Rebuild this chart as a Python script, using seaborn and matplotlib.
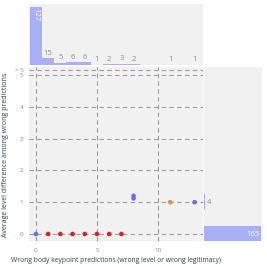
import matplotlib
matplotlib.use("Agg")
import matplotlib.pyplot as plt
import seaborn as sns
import pandas as pd

# scatter points: wrong predictions vs average level difference
pt_x = [0, 1, 2, 3, 4, 5, 6, 7, 8, 8, 11, 13]
pt_y = [0, 0, 0, 0, 0, 0, 0, 0, 1.12, 1.2, 1, 1]
pt_group = ["a", "b", "b", "b", "b", "b", "b", "b", "a", "a", "c", "a"]
group_colors = {"a": "#636EFA", "b": "#E0201B", "c": "#F58A2E"}

# marginal histogram counts
top_x = [0, 1, 2, 3, 4, 5, 6, 7, 8, 11, 13]
top_counts = [127, 15, 5, 6, 6, 1, 2, 3, 2, 1, 1]
right_y = [0, 1]
right_counts = [165, 4]

y_ticks = [0, 1, 2, 3, 4, 5, 5.16]
y_ticklabels = ["0", "1", "2", "3", "4", "5", "> 5"]
x_ticks = [0, 5, 10]

sns.set_theme(style="whitegrid")
plt.rcParams['font.family'] = ['Open Sans', 'DejaVu Sans']

bg = "#f1f1f1"
bar_col = "#aab0f6"
grid_kw = dict(color="#9c9c9c", linestyle=(0, (4, 3)), linewidth=0.8)
tick_col = "#8a8a8a"

W = 267
fig = plt.figure(figsize=(2.67, 2.67), dpi=100)
ax = fig.add_axes([29 / W, (W - 241) / W, 174 / W, 174 / W])
ax_top = fig.add_axes([29 / W, (W - 65) / W, 174 / W, 61 / W])
ax_right = fig.add_axes([204 / W, (W - 241) / W, 58 / W, 174 / W])

# main scatter
df = pd.DataFrame({"x": pt_x, "y": pt_y, "g": pt_group})
sns.scatterplot(data=df, x="x", y="y", hue="g", palette=group_colors,
                s=11, linewidth=0, legend=False, ax=ax, zorder=3)
ax.set_facecolor(bg)
ax.set_xlim(-0.57, 13.69)
ax.set_ylim(-0.22, 5.25)
ax.set_xticks(x_ticks)
ax.set_yticks(y_ticks)
ax.set_yticklabels(y_ticklabels)
ax.grid(True, **grid_kw)
ax.tick_params(labelsize=4.6, labelcolor=tick_col, color="#c8c8c8",
               length=2.5, width=0.6, pad=1.5, direction="out")
ax.tick_params(axis="x", pad=2.5)
ax.set_xlabel("")
ax.set_ylabel("")
for s in ax.spines.values():
    s.set_visible(False)

# top histogram
sns.histplot(x=top_x, weights=top_counts, discrete=True, ax=ax_top,
             color=bar_col, alpha=1, edgecolor="none", linewidth=0)
ax_top.set_facecolor(bg)
ax_top.set_xlim(-0.57, 13.69)
ax_top.set_ylim(0, 133.6)
ax_top.set_xticks([])
ax_top.set_yticks([])
ax_top.grid(False)
ax_top.set_ylabel("")
for s in ax_top.spines.values():
    s.set_visible(False)
for xv, c in zip(top_x, top_counts):
    if c > 60:
        ax_top.text(xv, c - 3, str(c), rotation=-90, ha="center", va="top",
                    fontsize=5.5, color="white")
    else:
        ax_top.text(xv, c + 3, str(c), ha="center", va="bottom",
                    fontsize=5.5, color=tick_col)

# right histogram
sns.histplot(y=right_y, weights=right_counts, discrete=True, shrink=0.5,
             ax=ax_right, color=bar_col, alpha=1, edgecolor="none", linewidth=0)
ax_right.set_facecolor(bg)
ax_right.set_ylim(-0.22, 5.25)
ax_right.set_xlim(0, 168)
ax_right.set_xticks([])
ax_right.set_yticks([])
ax_right.grid(False)
ax_right.set_xlabel("")
for s in ax_right.spines.values():
    s.set_visible(False)
for yv, c in zip(right_y, right_counts):
    if c > 60:
        ax_right.text(c - 3, yv, str(c), ha="right", va="center",
                      fontsize=5.5, color="white")
    else:
        ax_right.text(c + 3, yv, str(c), ha="left", va="center",
                      fontsize=5.5, color=tick_col)

fig.text(116 / W, 1 - 261 / W, "Wrong body keypoint predictions (wrong level or wrong legitimacy)",
         ha="center", va="center", fontsize=4.9, color="#2a3f5f")
fig.text(6 / W, 1 - 155 / W,
         "Average level difference among wrong predictions",
         rotation=90, ha="center", va="center", fontsize=5.0, color="#2a3f5f")

fig.savefig("out.png", dpi=100)
